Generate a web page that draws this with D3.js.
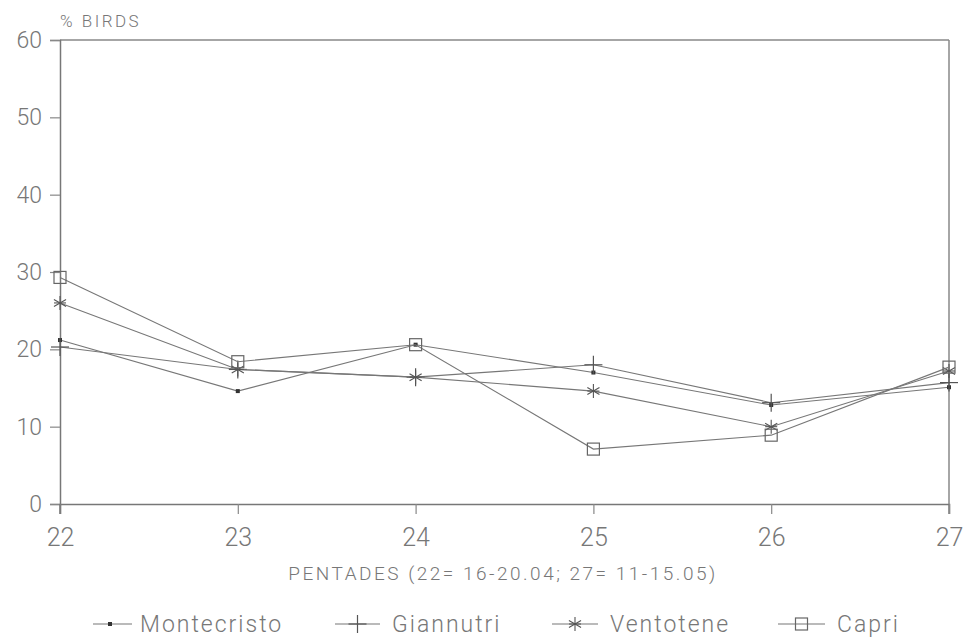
<!DOCTYPE html>
<html><head><meta charset="utf-8">
<script src="https://cdn.jsdelivr.net/npm/d3@7"></script>
<style>body{margin:0;background:#fff}svg{display:block}text{font-family:Roboto,"Liberation Sans",sans-serif;font-weight:300;fill:#777}</style>
</head><body><svg id="c" width="970" height="640"></svg>
<script>
const pentades = [22, 23, 24, 25, 26, 27];
const montecristo = [21.2, 14.6, 20.6, 17.0, 12.8, 15.1];
const giannutri = [20.3, 17.4, 16.4, 18.0, 13.1, 15.7];
const ventotene = [26.0, 17.4, 16.4, 14.6, 10.0, 17.2];
const capri = [29.3, 18.4, 20.6, 7.1, 8.9, 17.7];
const seriesNames = ["Montecristo", "Giannutri", "Ventotene", "Capri"];
const yTicks = [0, 10, 20, 30, 40, 50, 60];

const svg = d3.select("#c");
const x = d3.scaleLinear().domain([22, 27]).range([60, 949]);
const y = d3.scaleLinear().domain([0, 60]).range([504, 40]);
const ink = "#777";

// frame
svg.append("line").attr("x1", 60).attr("x2", 949).attr("y1", 40).attr("y2", 40).attr("stroke", "#888").attr("stroke-width", 1.5);
svg.append("line").attr("x1", 949).attr("x2", 949).attr("y1", 40).attr("y2", 514).attr("stroke", "#888").attr("stroke-width", 1.5);

const yAxis = svg.append("g").attr("transform", "translate(60,0)")
  .call(d3.axisLeft(y).tickValues(yTicks).tickFormat(d3.format("d")).tickSize(10).tickPadding(8));
const xAxis = svg.append("g").attr("transform", "translate(0,504)")
  .call(d3.axisBottom(x).tickValues(pentades).tickFormat(d3.format("d")).tickSize(10).tickPadding(14));
[yAxis, xAxis].forEach(g => {
  g.select(".domain").attr("stroke", "#777").attr("stroke-width", 1.5);
  g.selectAll(".tick line").attr("stroke", "#888").attr("stroke-width", 1.2);
  g.selectAll("text").attr("fill", "#888").style("font-family", "Roboto, sans-serif").style("font-weight", 300);
});
yAxis.selectAll("text").style("font-size", "23px");
xAxis.selectAll("text").style("font-size", "25px");
// extend left axis below 0
svg.append("line").attr("x1", 60).attr("x2", 60).attr("y1", 504).attr("y2", 514).attr("stroke", "#777").attr("stroke-width", 1.5);

svg.append("text").attr("x", 60).attr("y", 27).style("font-size", "17px").style("letter-spacing", "2.5px").text("% BIRDS");
svg.append("text").attr("x", 503).attr("y", 580).attr("text-anchor", "middle").style("font-size", "19px").style("letter-spacing", "2.5px").text("PENTADES (22= 16-20.04; 27= 11-15.05)");

const data = [montecristo, giannutri, ventotene, capri];
const line = d3.line().x((d, i) => x(pentades[i])).y(d => y(d));

function marker(g, type, cx, cy) {
  if (type === 0) {
    g.append("rect").attr("x", cx - 2).attr("y", cy - 2).attr("width", 4).attr("height", 4).attr("fill", "#333");
  } else if (type === 1) {
    g.append("line").attr("x1", cx - 9).attr("x2", cx + 9).attr("y1", cy).attr("y2", cy).attr("stroke", "#555").attr("stroke-width", 1.2);
    g.append("line").attr("x1", cx).attr("x2", cx).attr("y1", cy - 9).attr("y2", cy + 9).attr("stroke", "#555").attr("stroke-width", 1.2);
  } else if (type === 2) {
    const r = 7;
    [0, 60, 120].forEach(a => {
      const rad = a * Math.PI / 180 + Math.PI / 2;
      g.append("line").attr("x1", cx - r * Math.cos(rad)).attr("x2", cx + r * Math.cos(rad))
        .attr("y1", cy - r * Math.sin(rad)).attr("y2", cy + r * Math.sin(rad)).attr("stroke", "#555").attr("stroke-width", 1.1);
    });
    g.append("line").attr("x1", cx - 6).attr("x2", cx + 6).attr("y1", cy).attr("y2", cy).attr("stroke", "#555").attr("stroke-width", 1.1);
  } else {
    g.append("rect").attr("x", cx - 6).attr("y", cy - 6).attr("width", 12).attr("height", 12).attr("fill", "none").attr("stroke", "#666").attr("stroke-width", 1.2);
  }
}

data.forEach((vals, s) => {
  svg.append("path").datum(vals).attr("d", line).attr("fill", "none").attr("stroke", ink).attr("stroke-width", 1.1);
  const g = svg.append("g");
  vals.forEach((v, i) => marker(g, s, x(pentades[i]), y(v)));
});

// legend
const legX = [[93, 132, 140], [335, 380, 392], [552, 598, 610], [778, 825, 837]];
const legY = 624;
seriesNames.forEach((name, s) => {
  const [a, b, t] = legX[s];
  svg.append("line").attr("x1", a).attr("x2", b).attr("y1", legY).attr("y2", legY).attr("stroke", ink).attr("stroke-width", 1.1);
  const g = svg.append("g");
  const mx = s === 0 ? a + 17 : (a + b) / 2;
  marker(g, s, mx, legY);
  svg.append("text").attr("x", t).attr("y", legY + 8).style("font-size", "23px").style("letter-spacing", "2px").text(name);
});
</script></body></html>
